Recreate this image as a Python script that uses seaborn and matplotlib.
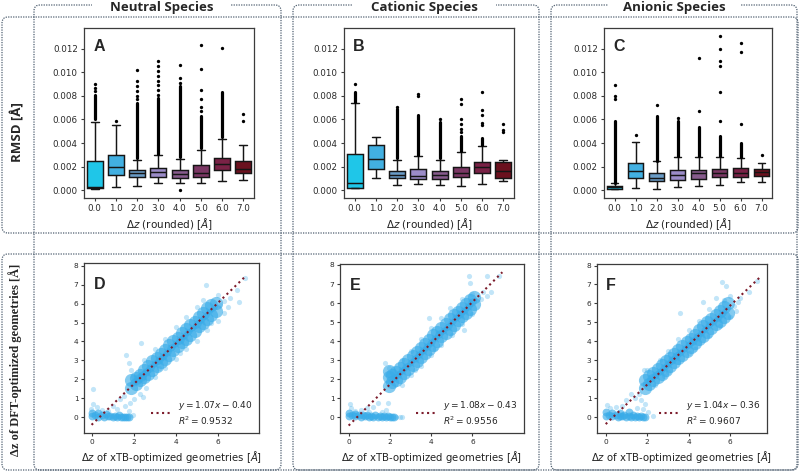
import numpy as np
import pandas as pd
import matplotlib
matplotlib.use("Agg")
import matplotlib.pyplot as plt
import seaborn as sns
from matplotlib.patches import FancyBboxPatch, Rectangle

# ---------------- data ----------------
cats = ["0.0", "1.0", "2.0", "3.0", "4.0", "5.0", "6.0", "7.0"]
box_colors = ["#1fc6e8", "#42b0e2", "#6a9cc6", "#9b8cc8", "#875b8c",
              "#7b3764", "#7a2246", "#6b111e"]

# Neutral (A): whisker-low, q1, median, q3, whisker-high
A_lo  = [0.00010, 0.00025, 0.00034, 0.00057, 0.00057, 0.00060, 0.00074, 0.00090]
A_q1  = [0.00020, 0.00125, 0.00113, 0.00116, 0.00105, 0.00116, 0.00170, 0.00144]
A_med = [0.00028, 0.00198, 0.00150, 0.00153, 0.00139, 0.00147, 0.00226, 0.00181]
A_q3  = [0.00246, 0.00302, 0.00173, 0.00186, 0.00175, 0.00212, 0.00277, 0.00252]
A_hi  = [0.00580, 0.00550, 0.00254, 0.00296, 0.00266, 0.00345, 0.00435, 0.00387]
A_dense = [(0.0060, 0.0081), None, (0.0027, 0.0074), (0.0031, 0.0078),
           (0.0028, 0.0088), (0.0036, 0.0063), (0.0045, 0.0083), None]
A_sparse = [[0.0084, 0.0087, 0.0090], [0.00585],
            [0.0077, 0.0080, 0.0084, 0.0088, 0.0093, 0.0102],
            [0.0081, 0.0085, 0.0089, 0.0093, 0.0097, 0.0101, 0.0105, 0.0110],
            [0.0000, 0.0091, 0.0095, 0.0106],
            [0.0067, 0.0071, 0.0077, 0.0085, 0.0103, 0.0123],
            [0.0121], [0.0059, 0.0065]]

# Cationic (B)
B_lo  = [0.00015, 0.00100, 0.00048, 0.00054, 0.00042, 0.00034, 0.00054, 0.00076]
B_q1  = [0.00020, 0.00181, 0.00105, 0.00099, 0.00097, 0.00110, 0.00147, 0.00105]
B_med = [0.00063, 0.00263, 0.00133, 0.00124, 0.00127, 0.00147, 0.00198, 0.00161]
B_q3  = [0.00308, 0.00387, 0.00167, 0.00178, 0.00167, 0.00195, 0.00237, 0.00240]
B_hi  = [0.00740, 0.00449, 0.00260, 0.00294, 0.00260, 0.00322, 0.00373, 0.00254]
B_dense = [(0.0075, 0.0083), None, (0.0027, 0.0069), (0.0030, 0.0064),
           (0.0027, 0.0058), (0.0033, 0.0046), (0.0038, 0.0044), None]
B_sparse = [[0.0090], [], [0.0071], [0.0080, 0.0082], [0.0060],
            [0.0049, 0.0052, 0.0056, 0.0060, 0.0073, 0.0077],
            [0.0055, 0.0057, 0.0064, 0.0068, 0.0083],
            [0.0049, 0.0051, 0.0056]]

# Anionic (C)
C_lo  = [0.00012, 0.00023, 0.00014, 0.00025, 0.00040, 0.00048, 0.00068, 0.00066]
C_q1  = [0.00014, 0.00102, 0.00074, 0.00090, 0.00099, 0.00110, 0.00116, 0.00124]
C_med = [0.00029, 0.00161, 0.00102, 0.00127, 0.00142, 0.00142, 0.00147, 0.00153]
C_q3  = [0.00040, 0.00232, 0.00147, 0.00170, 0.00175, 0.00181, 0.00190, 0.00181]
C_hi  = [0.00057, 0.00412, 0.00246, 0.00283, 0.00283, 0.00283, 0.00277, 0.00232]
C_dense = [(0.0006, 0.0059), None, (0.0025, 0.0063), (0.0029, 0.0059),
           (0.0029, 0.0054), (0.0029, 0.0046), (0.0028, 0.0040), None]
C_sparse = [[0.0077, 0.0080, 0.0089], [0.0047], [0.0072], [0.0061],
            [0.0067, 0.0112],
            [0.0059, 0.0083, 0.0105, 0.0110, 0.0120, 0.0131],
            [0.0056, 0.0117, 0.0125], [0.0030]]

# Scatter D (neutral): dense band, dense base cluster, sparse points
D_band_x = [1.9, 1.9, 2.1, 2.1, 2.3, 2.3, 2.5, 2.5, 2.7, 2.7, 2.9, 2.9, 3.1, 3.1,
            3.3, 3.3, 3.5, 3.5, 3.7, 3.7, 3.9, 3.9, 4.1, 4.1, 4.3, 4.3, 4.5, 4.5,
            4.7, 4.7, 4.9, 4.9, 5.1, 5.1, 5.3, 5.3, 5.5, 5.5, 5.7, 5.7, 5.9, 5.9]
D_band_y = [1.55, 1.95, 1.75, 2.05, 1.95, 2.25, 2.1, 2.5, 2.3, 2.7, 2.5, 2.95, 2.7, 3.15,
            2.9, 3.35, 3.1, 3.55, 3.3, 3.8, 3.55, 4.0, 3.75, 4.2, 3.95, 4.45, 4.15, 4.65,
            4.35, 4.85, 4.55, 5.05, 4.8, 5.3, 5.0, 5.5, 5.2, 5.75, 5.4, 5.95, 5.6, 6.05]
D_base_x = [0.0, 0.0, 0.15, 0.3, 0.3, 0.5, 0.6, 0.7, 0.8, 0.9, 1.0, 1.1, 1.2, 1.3, 1.4,
            1.5, 1.6, 1.7, 1.8]
D_base_y = [0.05, 0.22, 0.1, 0.04, 0.2, 0.1, 0.03, 0.15, 0.05, 0.08, 0.03, 0.06, 0.02,
            0.1, 0.03, 0.04, 0.02, 0.03, 0.02]
D_sp_x = [0.05, 0.08, -0.05, 0.25, 0.5, 0.8, 1.0, 1.2, 1.35, 1.55, 1.6, 1.8, 1.95, 1.85,
          2.0, 1.65, 1.8, 1.88, 1.95, 2.3, 2.45, 2.35, 2.6, 3.0, 3.5, 4.0, 4.5, 5.0,
          5.5, 6.0, 6.3, 2.5, 3.0, 3.5, 4.0, 4.5, 5.0, 5.3, 5.45, 6.0, 6.3, 6.6,
          6.9, 7.0, 7.3, 6.5, 6.1, 3.2, 4.2, 5.7]
D_sp_y = [1.5, 0.7, 0.45, 0.55, 0.4, 0.35, 0.6, 0.45, 0.95, 1.1, 0.6, 0.35, 0.1, 0.75,
          0.95, 3.3, 2.85, 2.5, 2.2, 1.25, 1.05, 3.9, 1.55, 2.15, 2.6, 3.1, 3.6, 4.05,
          4.6, 5.1, 5.5, 3.0, 3.6, 4.15, 4.75, 5.3, 5.8, 6.2, 7.0, 6.45, 6.15, 6.3,
          6.7, 6.1, 7.35, 5.8, 5.9, 2.6, 3.4, 5.0]
D_fit_x = [0.0, 7.3]
D_fit_y = [-0.40, 7.41]

# Scatter E (cationic)
E_band_x = [1.95, 1.95, 1.95, 2.1, 2.1, 2.3, 2.3, 2.5, 2.5, 2.7, 2.7, 2.9, 2.9, 3.1, 3.1,
            3.3, 3.3, 3.5, 3.5, 3.7, 3.7, 3.9, 3.9, 4.1, 4.1, 4.3, 4.3, 4.5, 4.5,
            4.7, 4.7, 4.9, 4.9, 5.1, 5.1, 5.3, 5.3, 5.5, 5.5, 5.7, 5.7, 5.9, 5.9,
            6.1, 6.1]
E_band_y = [1.65, 2.1, 2.45, 1.85, 2.25, 1.95, 2.4, 2.1, 2.6, 2.35, 2.8, 2.55, 3.0, 2.75, 3.2,
            2.95, 3.45, 3.15, 3.65, 3.4, 3.85, 3.6, 4.05, 3.8, 4.3, 4.0, 4.5, 4.25, 4.7,
            4.45, 4.9, 4.65, 5.15, 4.85, 5.35, 5.1, 5.55, 5.3, 5.75, 5.5, 5.95, 5.7, 6.15,
            5.95, 6.3]
E_base_x = [0.0, 0.0, 0.15, 0.3, 0.3, 0.5, 0.6, 0.7, 0.8, 0.9, 1.0, 1.1, 1.2, 1.3, 1.4,
            1.5, 1.6, 1.7, 1.8, 1.9, 2.0, 2.1, 2.2]
E_base_y = [0.05, 0.25, 0.1, 0.05, 0.2, 0.1, 0.03, 0.12, 0.05, 0.1, 0.03, 0.06, 0.02,
            0.1, 0.03, 0.05, 0.02, 0.05, 0.02, 0.05, 0.02, 0.03, 0.01]
E_sp_x = [0.05, 0.1, 0.3, 0.6, 0.9, 1.0, 1.2, 1.4, 1.9, 2.3, 2.5, 2.6, 1.6, 1.8, 1.95,
          1.75, 2.6, 3.0, 3.5, 4.0, 4.5, 5.0, 5.5, 6.0, 2.6, 3.0, 3.5, 4.0, 4.5, 3.9,
          4.9, 5.5, 5.85, 5.9, 6.7, 6.0, 6.5, 6.7, 6.9, 7.3, 6.4, 5.6, 3.2, 4.2]
E_sp_y = [0.7, 0.5, 0.35, 0.4, 0.5, 0.3, 0.55, 0.75, 0.75, 0.0, 0.02, 0.0, 0.3, 0.4, 2.6,
          2.85, 1.7, 2.2, 2.7, 3.3, 3.8, 4.3, 4.9, 5.4, 3.0, 3.5, 4.1, 4.7, 5.2, 5.2,
          5.75, 6.2, 7.4, 7.05, 7.4, 6.5, 6.6, 6.35, 6.6, 7.4, 6.2, 4.6, 2.5, 3.6]
E_fit_x = [0.0, 7.45]
E_fit_y = [-0.43, 7.62]

# Scatter F (anionic)
F_band_x = [1.9, 1.9, 2.1, 2.1, 2.3, 2.3, 2.5, 2.5, 2.7, 2.7, 2.9, 2.9, 3.1, 3.1,
            3.3, 3.3, 3.5, 3.5, 3.7, 3.7, 3.9, 3.9, 4.1, 4.1, 4.3, 4.3, 4.5, 4.5,
            4.7, 4.7, 4.9, 4.9, 5.1, 5.1, 5.3, 5.3, 5.5, 5.5, 5.7, 5.7, 5.9, 5.9]
F_band_y = [1.55, 1.95, 1.75, 2.15, 1.95, 2.35, 2.1, 2.55, 2.3, 2.75, 2.5, 2.95, 2.7, 3.15,
            2.9, 3.35, 3.1, 3.55, 3.3, 3.75, 3.5, 3.95, 3.7, 4.15, 3.9, 4.35, 4.1, 4.6,
            4.3, 4.8, 4.5, 5.0, 4.7, 5.2, 4.9, 5.4, 5.1, 5.6, 5.3, 5.8, 5.5, 6.0]
F_base_x = [0.0, 0.0, 0.15, 0.3, 0.3, 0.5, 0.6, 0.7, 0.7, 0.8, 0.9, 1.0, 1.1, 1.1, 1.2,
            1.3, 1.4, 1.5, 1.6, 1.7, 1.8, 1.9]
F_base_y = [0.05, 0.3, 0.1, 0.05, 0.25, 0.1, 0.03, 0.05, 0.25, 0.05, 0.1, 0.03, 0.05,
            0.3, 0.02, 0.1, 0.03, 0.05, 0.02, 0.05, 0.02, 0.03]
F_sp_x = [0.05, 0.2, 0.5, 0.8, 1.0, 1.2, 1.4, 1.6, 1.7, 1.9, 2.05, 2.3, 1.5, 1.8, 1.85,
          2.0, 2.4, 3.0, 3.5, 4.0, 4.5, 5.0, 5.5, 6.0, 6.3, 2.6, 3.0, 3.5, 4.0, 4.5,
          5.0, 3.6, 4.7, 5.3, 5.6, 5.8, 6.0, 6.4, 6.5, 6.9, 7.3, 6.2, 5.7, 2.8, 4.3]
F_sp_y = [0.65, 0.5, 0.55, 0.6, 0.9, 1.2, 1.0, 1.25, 0.9, 0.7, 0.3, 0.05, 0.5, 0.45, 2.5,
          2.5, 1.7, 2.4, 2.9, 3.4, 3.9, 4.3, 4.8, 5.3, 5.6, 3.0, 3.5, 4.1, 4.6, 5.1,
          5.7, 5.5, 6.1, 6.3, 7.15, 6.9, 6.4, 6.1, 6.3, 6.6, 7.2, 5.85, 6.2, 2.2, 3.6]
F_fit_x = [0.0, 7.42]
F_fit_y = [-0.36, 7.36]

fit_labels = ["$y = 1.07x - 0.40$\n$R^2 = 0.9532$",
              "$y = 1.08x - 0.43$\n$R^2 = 0.9556$",
              "$y = 1.04x - 0.36$\n$R^2 = 0.9607$"]
titles = ["Neutral Species", "Cationic Species", "Anionic Species"]
letters_top = ["A", "B", "C"]
letters_bot = ["D", "E", "F"]

# ---------------- style ----------------
sns.set_theme(style="ticks")
plt.rcParams["font.family"] = ["DejaVu Sans"]
plt.rcParams.update({
    "axes.edgecolor": "#3c3c3c", "axes.linewidth": 0.9,
    "xtick.color": "#3c3c3c", "ytick.color": "#3c3c3c",
    "xtick.labelcolor": "#2a2a2a", "ytick.labelcolor": "#2a2a2a",
    "xtick.major.size": 2.5, "ytick.major.size": 2.5,
    "xtick.major.width": 0.8, "ytick.major.width": 0.8,
    "axes.labelcolor": "#222222",
})

W, H = 800, 472
fig = plt.figure(figsize=(W / 100, H / 100), dpi=100)
fig.patch.set_facecolor("white")


def rect(l, t, r, b):
    return [l / W, 1 - b / H, (r - l) / W, (b - t) / H]


top_rects = [rect(84, 28, 254, 198), rect(344, 28, 514, 198), rect(604, 28, 772, 198)]
bot_rects = [rect(84, 263, 259, 433), rect(340, 264, 524, 433), rect(597, 264, 767, 433)]
bot_xlims = [(-0.36, 7.97), (-0.42, 8.5), (-0.42, 7.78)]
bot_ylims = [(-0.83, 8.14), (-0.82, 8.05), (-0.83, 8.08)]

box_sets = [(A_lo, A_q1, A_med, A_q3, A_hi, A_dense, A_sparse),
            (B_lo, B_q1, B_med, B_q3, B_hi, B_dense, B_sparse),
            (C_lo, C_q1, C_med, C_q3, C_hi, C_dense, C_sparse)]
scat_sets = [(D_band_x, D_band_y, D_base_x, D_base_y, D_sp_x, D_sp_y, D_fit_x, D_fit_y),
             (E_band_x, E_band_y, E_base_x, E_base_y, E_sp_x, E_sp_y, E_fit_x, E_fit_y),
             (F_band_x, F_band_y, F_base_x, F_base_y, F_sp_x, F_sp_y, F_fit_x, F_fit_y)]

for k in range(3):
    lo, q1, med, q3, hi, dense, sparse = box_sets[k]
    rows = []
    for i, c in enumerate(cats):
        for v in (lo[i], q1[i], med[i], q3[i], hi[i]):
            rows.append((c, v))
    df = pd.DataFrame(rows, columns=["dz", "rmsd"])
    ax = fig.add_axes(top_rects[k])
    sns.boxplot(data=df, x="dz", y="rmsd", order=cats, hue="dz", hue_order=cats,
                palette=box_colors, saturation=1, legend=False, whis=(0, 100),
                showfliers=False, width=0.75, linecolor="#151515", linewidth=1.05,
                ax=ax)
    for i, d in enumerate(dense):
        if d is not None:
            ax.plot([i, i], [d[0], d[1]], color="black", lw=2.3,
                    solid_capstyle="round", zorder=3)
    orows = [(cats[i], v) for i, vals in enumerate(sparse) for v in vals]
    odf = pd.DataFrame(orows, columns=["dz", "val"])
    sns.stripplot(data=odf, x="dz", y="val", order=cats, jitter=False,
                  color="black", size=2.4, ax=ax, zorder=3)
    ax.set_xlim(-0.5, 7.5)
    ax.set_ylim(-0.00066, 0.01376)
    ax.set_yticks(np.arange(0, 0.0121, 0.002))
    ax.set_yticklabels([f"{v:.3f}" for v in np.arange(0, 0.0121, 0.002)])
    ax.tick_params(labelsize=6.3, pad=2)
    ax.set_xlabel("$\\Delta z$ (rounded) [$Å$]", fontsize=7.5, labelpad=2)
    ax.set_ylabel("")
    for s in ax.spines.values():
        s.set_visible(True)
    ax.text(0.055, 0.935, letters_top[k], transform=ax.transAxes, fontsize=11.5,
            fontweight="bold", va="top", ha="left", family=["Liberation Sans"])

for k in range(3):
    bx, by, cx, cy, sx, sy, fx, fy = scat_sets[k]
    ax = fig.add_axes(bot_rects[k])
    sns.scatterplot(x=sx, y=sy, s=14, color="#38abe8", alpha=0.3,
                    linewidth=0, ax=ax)
    sns.scatterplot(x=cx, y=cy, s=32, color="#38abe8", alpha=0.65,
                    linewidth=0, ax=ax)
    sns.scatterplot(x=bx, y=by, s=90, color="#38abe8", alpha=0.62,
                    linewidth=0, ax=ax)
    ax.plot(fx, fy, linestyle=":", color="#7d1d2d", lw=1.5, label=fit_labels[k])
    ax.set_xlim(*bot_xlims[k])
    ax.set_ylim(*bot_ylims[k])
    ax.set_xticks([0, 2, 4, 6])
    ax.set_yticks(range(0, 9))
    ax.tick_params(labelsize=5.3, pad=1.5)
    ax.set_xlabel("$\\Delta z$ of xTB-optimized geometries [$Å$]", fontsize=7.3,
                  labelpad=3)
    ax.legend(loc="lower right", frameon=False, fontsize=6.5, handlelength=2.2,
              handletextpad=0.8, borderaxespad=0.3)
    ax.text(0.055, 0.92, letters_bot[k], transform=ax.transAxes, fontsize=11.5,
            fontweight="bold", va="top", ha="left", family=["Liberation Sans"])

# ---------------- decorations ----------------
tr = fig.dpi_scale_trans
deco = "#4f5f70"


def rbox(l, t, r, b, z=1):
    p = FancyBboxPatch((l / 100, (H - b) / 100), (r - l) / 100, (b - t) / 100,
                       boxstyle="round,pad=0,rounding_size=0.06", transform=tr,
                       fill=False, edgecolor=deco, linewidth=0.9,
                       linestyle=(0, (1, 1)), zorder=z)
    fig.patches.append(p)


rbox(34, 5, 281, 470)
rbox(293, 5, 539, 470)
rbox(551, 5, 797, 470)
rbox(2, 17, 798, 233)
rbox(2, 254, 798, 470)

gaps = [(92, 230), (353, 496), (608, 741)]
centers = [162, 424, 674]
for (g0, g1), cxp, t in zip(gaps, centers, titles):
    fig.patches.append(Rectangle((g0 / 100, (H - 12) / 100), (g1 - g0) / 100,
                                 12 / 100, transform=tr, facecolor="white",
                                 edgecolor="none", zorder=2))
    fig.text(cxp / W, 1 - 8 / H, t, ha="center", va="center", fontsize=9.5,
             fontweight="bold", family=["Open Sans", "DejaVu Sans"], zorder=3)

fig.text(18 / W, 1 - 132 / H, "RMSD [Å]", rotation=90, ha="center", va="center",
         fontsize=9.5, fontweight="bold", family=["Open Sans", "DejaVu Sans"])
fig.text(15 / W, 1 - 360 / H, "Δz of DFT-optimized geometries [Å]", rotation=90,
         ha="center", va="center", fontsize=9, fontweight="bold",
         family=["Liberation Serif", "DejaVu Serif"])

fig.savefig("out.png", dpi=100, facecolor="white")
